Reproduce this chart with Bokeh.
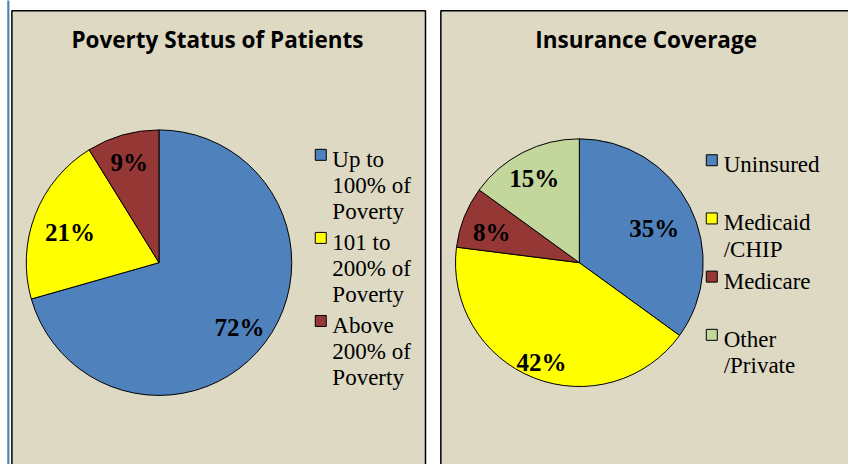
import numpy as np
from bokeh.plotting import figure
from bokeh.models import Range1d, ColumnDataSource
from bokeh.core.properties import value
from bokeh.embed import file_html
from bokeh.resources import INLINE

# ---- data ----
poverty_title = "Poverty Status of Patients"
poverty_categories = ["Up to 100% of Poverty", "101 to 200% of Poverty", "Above 200% of Poverty"]
poverty_values = [72, 21, 9]
poverty_legend_lines = [["Up to", "100% of", "Poverty"],
                        ["101 to", "200% of", "Poverty"],
                        ["Above", "200% of", "Poverty"]]
poverty_colors = ["#4F81BD", "#FFFF00", "#953735"]

insurance_title = "Insurance Coverage"
insurance_categories = ["Uninsured", "Medicaid/CHIP", "Medicare", "Other/Private"]
insurance_values = [35, 42, 8, 15]
insurance_legend_lines = [["Uninsured"], ["Medicaid", "/CHIP"], ["Medicare"], ["Other", "/Private"]]
insurance_colors = ["#4F81BD", "#FFFF00", "#953735", "#C3D69B"]

# ---- layout ----
W, H = 848, 464
SX = W / 856.0
SY = H / 472.0
def fx(px):
    return px * SX
def fy(py):
    return H - py * SY

PANEL_BG = "#DDD9C3"
SERIF = value("Liberation Serif")
TITLE_FONT = value("Open Sans")

p = figure(width=W, height=H, x_range=Range1d(0, W), y_range=Range1d(0, H),
           x_axis_type=None, y_axis_type=None, toolbar_location=None,
           output_backend="svg", min_border=0, outline_line_color=None,
           background_fill_color="white", border_fill_color="white")
p.grid.visible = False

# blue edge line
p.quad(left=[fx(6.8)], right=[fx(9.0)], top=[H + 5], bottom=[-5], fill_color="#4F81BD", line_color=None)

# panels
p.quad(left=[fx(11.5)], right=[fx(429)], top=[fy(10.5)], bottom=[-20],
       fill_color=PANEL_BG, line_color="black", line_width=1.5)
p.quad(left=[fx(444.5)], right=[W + 20], top=[fy(10.5)], bottom=[-20],
       fill_color=PANEL_BG, line_color="black", line_width=1.5)


def draw_pie(values, colors, cx, cy, r, label_fracs, font_size):
    vals = np.array(values, dtype=float)
    frac = vals / vals.sum()
    cum = np.concatenate([[0.0], np.cumsum(frac)])
    start = np.pi / 2 - cum[:-1] * 2 * np.pi
    end = np.pi / 2 - cum[1:] * 2 * np.pi
    src = ColumnDataSource(dict(start=start, end=end, color=colors))
    p.wedge(x=cx, y=cy, radius=r, start_angle="start", end_angle="end",
            direction="clock", fill_color="color", line_color="black",
            line_width=1, source=src)
    mid = (start + end) / 2
    lf = np.array(label_fracs)
    lx = cx + lf * r * np.cos(mid)
    ly = cy + lf * r * np.sin(mid) - 0.35 * font_size + 4.5
    texts = [f"{v}%" for v in values]
    p.text(x=lx, y=ly, text=texts, text_align="center", text_baseline="alphabetic",
           text_font=SERIF, text_font_style="bold", text_font_size=f"{font_size}px",
           text_color="black")


def draw_legend(lines, colors, sq_x, y0, pitch, text_x, base_off, line_pitch):
    for i, (ls, c) in enumerate(zip(lines, colors)):
        yc = y0 + i * pitch
        p.rect(x=[fx(sq_x)], y=[fy(yc)], width=11, height=11,
               fill_color=c, line_color="black", line_width=1)
        ys = [fy(yc + base_off + j * line_pitch) + 3.5 for j in range(len(ls))]
        p.text(x=[fx(text_x)] * len(ls), y=ys, text=ls, text_align="left",
               text_baseline="alphabetic", text_font=SERIF, text_font_size="23px",
               text_color="black")


# titles
p.text(x=[fx(219), fx(651.7)], y=[fy(46.7) + 6.5, fy(46.7) + 6.5], text=[poverty_title, insurance_title],
       text_align="center", text_baseline="alphabetic", text_font=TITLE_FONT,
       text_font_style="bold", text_font_size="22.5px", text_color="black")

# pies
draw_pie(poverty_values, poverty_colors, fx(160), fy(266.7), 134 * SX, [0.76, 0.72, 0.82], 25)
draw_pie(insurance_values, insurance_colors, fx(584.3), fy(266.7), 125 * SX, [0.68, 0.83, 0.76, 0.80], 25)

# legends
draw_legend(poverty_legend_lines, poverty_colors, 323.3, 157, 84.5, 335, 8.0, 26.7)
draw_legend(insurance_legend_lines, insurance_colors, 718, 162.5, 59.2, 730, 8.0, 26.7)

open("out.html", "w").write(file_html(p, INLINE))
